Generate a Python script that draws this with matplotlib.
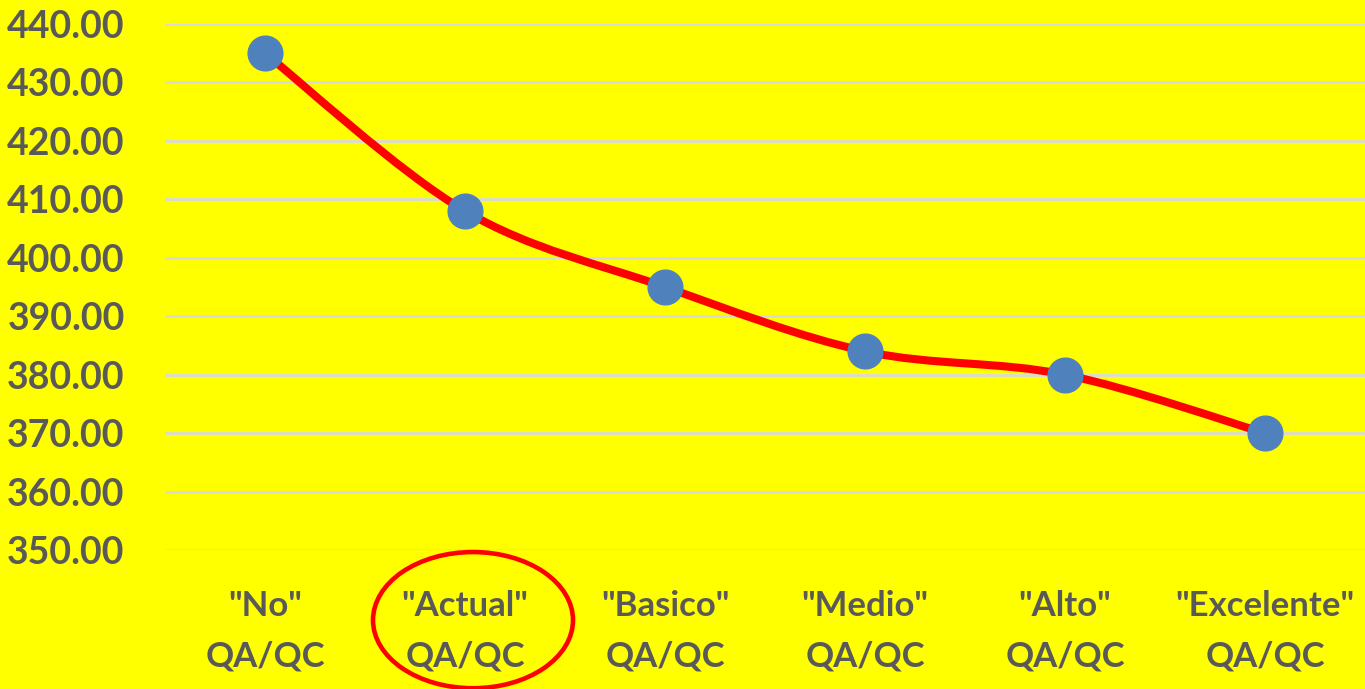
import numpy as np
import matplotlib.pyplot as plt
from matplotlib.path import Path
from matplotlib.patches import PathPatch, Ellipse

categories = ['"No"\nQA/QC', '"Actual"\nQA/QC', '"Basico"\nQA/QC',
              '"Medio"\nQA/QC', '"Alto"\nQA/QC', '"Excelente"\nQA/QC']
values = [435, 408, 395, 384, 380, 370]
yticks = np.arange(350, 441, 10)

plt.rcParams['font.family'] = ['Lato', 'DejaVu Sans']

fig = plt.figure(figsize=(13.65, 6.89), dpi=100, facecolor="#FFFF00")
ax = fig.add_axes([165 / 1365, 1 - 550 / 689, 1 - 165 / 1365, (550 - 24) / 689])
ax.set_facecolor("#FFFF00")

x = np.arange(len(values))
y = np.array(values, dtype=float)

# smoothed line like Excel: bezier segments with catmull-rom control points
verts = [(x[0], y[0])]
codes = [Path.MOVETO]
for i in range(len(x) - 1):
    p0 = np.array([x[max(i - 1, 0)], y[max(i - 1, 0)]])
    p1 = np.array([x[i], y[i]])
    p2 = np.array([x[i + 1], y[i + 1]])
    p3 = np.array([x[min(i + 2, len(x) - 1)], y[min(i + 2, len(x) - 1)]])
    c1 = p1 + (p2 - p0) / 6
    c2 = p2 - (p3 - p1) / 6
    verts += [tuple(c1), tuple(c2), tuple(p2)]
    codes += [Path.CURVE4] * 3
ax.add_patch(PathPatch(Path(verts, codes), facecolor="none", edgecolor="#FF0000",
                       lw=5.8, capstyle="round", zorder=3))
ax.plot(x, y, linestyle="none", marker="o", markersize=25,
        markerfacecolor="#4F81BD", markeredgecolor="#4F81BD", zorder=4)

ax.set_xlim(-0.5, 5.5)
ax.set_ylim(350, 440)
ax.set_yticks(yticks)
ax.set_yticklabels([f"{v:.2f}" for v in yticks])
ax.set_xticks(x)
ax.set_xticklabels(categories, linespacing=1.7)
ax.tick_params(axis="y", length=0, pad=29, labelsize=27, labelcolor="#595959")
ax.tick_params(axis="x", length=0, pad=29, labelsize=25, labelcolor="#595959")
for lbl in ax.get_xticklabels() + ax.get_yticklabels():
    lbl.set_fontweight("bold")

ax.grid(axis="y", color="#D9D9D9", lw=2)
ax.set_axisbelow(True)
for s in ax.spines.values():
    s.set_visible(False)

# red circle highlighting the "Actual" label
ax.add_patch(Ellipse((1.04, 338), 1.0, 23.3, facecolor="none", edgecolor="#FF0000",
                     lw=3.3, clip_on=False, zorder=5))

fig.savefig("out.png", dpi=100, facecolor="#FFFF00")
